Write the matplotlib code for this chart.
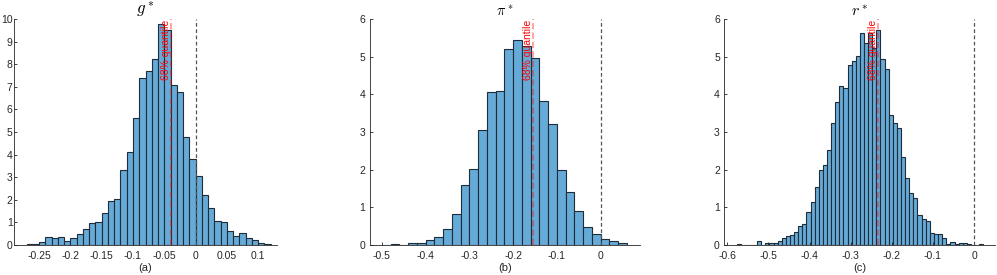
import numpy as np
import matplotlib
matplotlib.use("Agg")
import matplotlib.pyplot as plt

plt.rcParams["font.family"] = ["Liberation Sans", "DejaVu Sans"]
plt.rcParams["mathtext.fontset"] = "cm"
plt.rcParams["axes.unicode_minus"] = False

# bin heights (pdf scale)
g_lo, g_bw = -0.27, 0.01
g_h = [0.03, 0.05, 0.12, 0.37, 0.33, 0.37, 0.19, 0.30, 0.47, 0.69,
       0.99, 1.03, 1.43, 1.96, 2.02, 3.32, 4.12, 5.60, 7.38, 7.68,
       8.22, 9.78, 9.50, 7.08, 6.75, 4.80, 3.80, 3.05, 2.20, 1.65,
       1.07, 1.00, 0.60, 0.38, 0.52, 0.30, 0.20, 0.07, 0.03]
g_q = -0.0385

pi_lo, pi_bw = -0.50, 0.02
pi_h = [0.01, 0.02, 0.005, 0.06, 0.06, 0.13, 0.22, 0.42, 0.82, 1.60,
        2.02, 3.05, 4.06, 4.10, 5.20, 5.45, 5.28, 4.97, 3.82, 3.20,
        1.98, 1.40, 0.90, 0.48, 0.30, 0.15, 0.10, 0.05]
pi_q = -0.154

r_lo, r_bw = -0.5775, 0.01
r_h = [0.02, 0.005, 0.005, 0.005, 0.0, 0.10, 0.01, 0.04, 0.06, 0.06,
       0.10, 0.18, 0.23, 0.27, 0.34, 0.51, 0.55, 0.87, 1.13, 1.53,
       1.99, 2.12, 2.51, 3.23, 3.79, 4.23, 4.18, 4.77, 4.88, 5.01,
       5.62, 5.37, 5.62, 5.22, 5.71, 4.94, 4.66, 3.45, 3.23, 3.10,
       2.33, 1.77, 1.37, 1.26, 0.80, 0.69, 0.64, 0.31, 0.28, 0.29,
       0.18, 0.02, 0.08, 0.03, 0.05, 0.05, 0.02, 0.01, 0.0, 0.02]
r_q = -0.2335

panels = [
    dict(lo=g_lo, bw=g_bw, h=g_h, q=g_q, title=r"$g^*$", tsize=12, lab="(a)",
         rect=[0.01404, 0.1091, 0.2638, 0.8218], xlim=(-0.29, 0.13), ylim=(0, 10),
         xt=[-0.25, -0.2, -0.15, -0.1, -0.05, 0, 0.05, 0.1], ypad=1.0),
    dict(lo=pi_lo, bw=pi_bw, h=pi_h, q=pi_q, title=r"$\pi^*$", tsize=10.5, lab="(b)",
         rect=[0.3711, 0.1091, 0.2708, 0.8218], xlim=(-0.527, 0.09), ylim=(0, 6),
         xt=[-0.5, -0.4, -0.3, -0.2, -0.1, 0], ypad=3.5),
    dict(lo=r_lo, bw=r_bw, h=r_h, q=r_q, title=r"$r^*$", tsize=11.5, lab="(c)",
         rect=[0.7262, 0.1091, 0.2718, 0.8218], xlim=(-0.608, 0.051), ylim=(0, 6),
         xt=[-0.6, -0.5, -0.4, -0.3, -0.2, -0.1, 0], ypad=3.0),
]

fig = plt.figure(figsize=(9.97, 2.75), dpi=100)
axcol = "#262626"
for p in panels:
    ax = fig.add_axes(p["rect"])
    h = np.array(p["h"])
    left = p["lo"] + p["bw"] * np.arange(len(h))
    ax.bar(left, h, width=p["bw"], align="edge", color="#66AAD7",
           edgecolor="#1f2d3a", linewidth=0.8)
    ax.axvline(0, color="#555555", lw=0.9, ls=(0, (3, 2)))
    ax.axvline(p["q"], color="red", alpha=0.35, lw=1.5, ls=(0, (3, 1.5)))
    ax.text(p["q"], p["ylim"][1] * 0.995, "68% quantile", rotation=90, color="red",
            fontsize=7.5, ha="right", va="top")
    ax.set_xlim(p["xlim"])
    ax.set_ylim(p["ylim"])
    ax.set_xticks(p["xt"])
    ax.set_xticklabels([f"{v:g}" for v in p["xt"]])
    ax.set_yticks(np.arange(p["ylim"][0], p["ylim"][1] + 1))
    for s in ["top", "right"]:
        ax.spines[s].set_visible(False)
    for s in ["left", "bottom"]:
        ax.spines[s].set_color(axcol)
        ax.spines[s].set_linewidth(0.6)
    ax.tick_params(direction="in", length=2.5, width=0.6, colors=axcol, labelsize=7.5)
    ax.tick_params(axis="x", pad=4)
    ax.tick_params(axis="y", pad=p["ypad"])
    ax.set_title(p["title"], fontsize=p["tsize"], pad=1)
    ax.set_xlabel(p["lab"], fontsize=8, color=axcol, labelpad=2)

fig.savefig("out.png", dpi=100)
